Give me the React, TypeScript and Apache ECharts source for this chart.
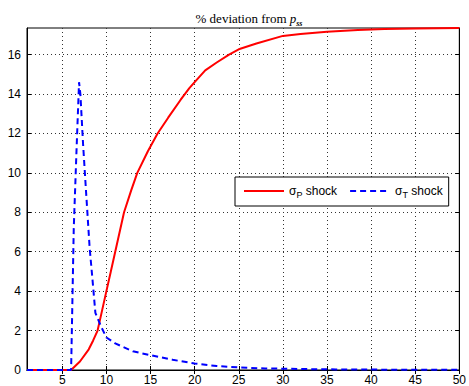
import React, { useEffect, useRef } from "react";
import * as echarts from "echarts";

const xTicks = [5, 10, 15, 20, 25, 30, 35, 40, 45, 50];
const yTicks = [0, 2, 4, 6, 8, 10, 12, 14, 16];

const redX = [1, 6, 7, 8, 8.5, 9, 9.5, 10, 10.5, 11, 12, 12.8, 13.5, 14.7, 15.8, 17, 18.4, 19.4, 20, 21.2, 22.5, 23.9, 25, 27, 30, 32, 35, 38.5, 41.5, 45, 50];
const redY = [0, 0, 0.43, 1.05, 1.5, 2.0, 3.0, 4.0, 5.0, 6.0, 8.0, 9.1, 10.0, 11.1, 12.0, 12.8, 13.7, 14.3, 14.6, 15.2, 15.6, 16.0, 16.27, 16.56, 16.95, 17.05, 17.16, 17.25, 17.3, 17.33, 17.35];

const blueX = [1, 6, 6.3, 6.6, 6.9, 7.05, 7.35, 7.7, 8.1, 8.4, 8.75, 9.4, 10, 11, 13, 15, 17.5, 20, 22.5, 25, 28, 32, 36, 40, 50];
const blueY = [0, 0, 7.2, 11, 14.6, 14.0, 11.5, 9.0, 6.2, 4.7, 2.9, 2.2, 1.65, 1.35, 0.95, 0.75, 0.52, 0.33, 0.2, 0.13, 0.08, 0.05, 0.03, 0.02, 0.01];

const X_MIN = 1;
const X_MAX = 50;
const Y_MIN = 0;
const Y_MAX = 17.35;

const FONT = "Liberation Sans, Arial, sans-serif";
const SERIF = "Liberation Serif, serif";

export default function App() {
  const ref = useRef<HTMLDivElement>(null);
  useEffect(() => {
    if (!ref.current) return;
    const chart = echarts.init(ref.current, undefined, { renderer: "svg" });
    const grid = { show: true, left: 27, right: 7, top: 28, bottom: 16, borderColor: "#000", borderWidth: 1, backgroundColor: "#fff" };
    const splitLine = { show: true, lineStyle: { color: "#333", width: 1, type: [1, 3] as any } };
    const axisLine = { show: true, lineStyle: { color: "#000", width: 1 } };
    const xBase = {
      type: "value" as const,
      min: X_MIN,
      max: X_MAX,
      axisLine,
      axisTick: { show: true, inside: true, length: 4, customValues: xTicks, lineStyle: { color: "#000" } },
    };
    const yBase = {
      type: "value" as const,
      min: Y_MIN,
      max: Y_MAX,
      axisLine,
      axisTick: { show: true, inside: true, length: 4, customValues: yTicks, lineStyle: { color: "#000" } },
    };
    chart.setOption({
      animation: false,
      backgroundColor: "#fff",
      title: {
        text: "{n|% deviation from }{p|p}{s|ss}",
        left: 244,
        textAlign: "center",
        top: 4,
        textStyle: {
          fontWeight: "normal",
          rich: {
            n: { fontFamily: SERIF, fontSize: 13, fontWeight: "normal", color: "#000", lineHeight: 18, verticalAlign: "middle" },
            p: { fontFamily: SERIF, fontSize: 13, fontWeight: "normal", fontStyle: "italic", color: "#000", lineHeight: 18, verticalAlign: "middle" },
            s: { fontFamily: SERIF, fontSize: 8, fontStyle: "italic", fontWeight: "bold", color: "#000", lineHeight: 18, verticalAlign: "bottom", padding: [6, 0, 0, 0] },
          },
        },
      },
      grid,
      legend: {
        left: 235,
        top: 177,
        orient: "horizontal",
        backgroundColor: "#fff",
        borderColor: "#000",
        borderWidth: 1,
        borderRadius: 0,
        padding: [7, 6, 7, 8],
        itemWidth: 40,
        itemHeight: 12,
        itemGap: 12,
        itemStyle: { opacity: 0 },
        formatter: (name: string) => {
          const sub = name.charAt(1);
          return "{a|σ}{b|" + sub + "}{a| shock}";
        },
        textStyle: {
          rich: {
            a: { fontFamily: FONT, fontSize: 12, color: "#000", lineHeight: 16, verticalAlign: "middle" },
            b: { fontFamily: FONT, fontSize: 9, color: "#000", lineHeight: 16, verticalAlign: "bottom", padding: [6, 0, 0, 0] },
          },
        },
        data: [{ name: "σP shock" }, { name: "σT shock" }],
      },
      xAxis: [
        {
          ...xBase,
          position: "bottom",
          splitLine,
          axisLabel: { show: true, customValues: xTicks, color: "#000", fontFamily: FONT, fontSize: 12, margin: 4 },
        },
        {
          ...xBase,
          position: "top",
          splitLine: { show: false },
          axisLabel: { show: false },
        },
      ],
      yAxis: [
        {
          ...yBase,
          position: "left",
          splitLine,
          axisLabel: { show: true, customValues: yTicks, color: "#000", fontFamily: FONT, fontSize: 12, margin: 6 },
        },
        {
          ...yBase,
          position: "right",
          splitLine: { show: false },
          axisLabel: { show: false },
        },
      ],
      series: [
        {
          name: "σP shock",
          type: "line",
          data: redX.map((x, i) => [x, redY[i]]),
          showSymbol: false,
          symbol: "none",
          color: "#ff0000",
          lineStyle: { color: "#ff0000", width: 2 },
          z: 3,
        },
        {
          name: "σT shock",
          type: "line",
          data: blueX.map((x, i) => [x, blueY[i]]),
          showSymbol: false,
          symbol: "none",
          color: "#0000ff",
          lineStyle: { color: "#0000ff", width: 2, type: [6, 4] as any },
          z: 4,
        },
      ],
    });
    return () => chart.dispose();
  }, []);
  return <div ref={ref} style={{ position: "fixed", left: 0, top: 0, width: 469, height: 386 }} />;
}
